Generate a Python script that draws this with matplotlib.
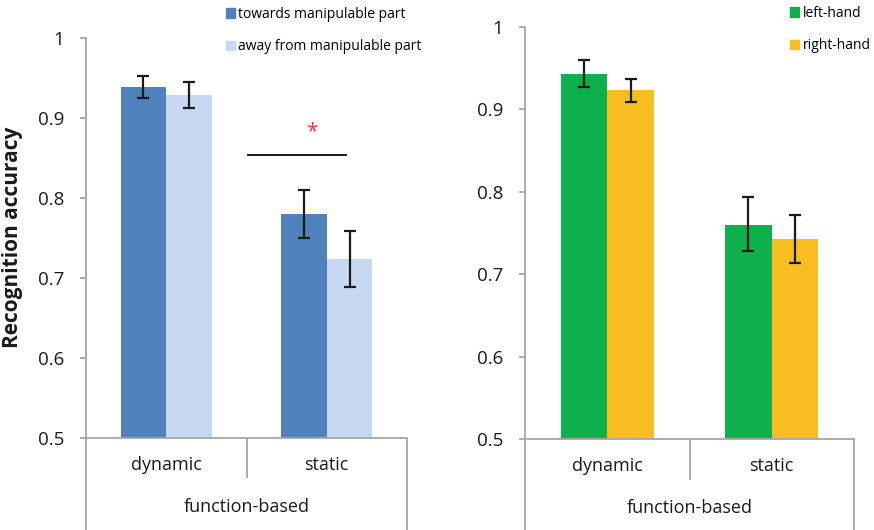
import matplotlib
matplotlib.use("Agg")
import matplotlib.pyplot as plt
import matplotlib.transforms as mtransforms
from matplotlib.patches import Patch

plt.rcParams['font.family'] = ['Open Sans', 'DejaVu Sans']

categories = ["dynamic", "static"]
group_label = "function-based"

# Left panel
left_series = ["towards manipulable part", "away from manipulable part"]
left_values = [[0.938, 0.780], [0.928, 0.723]]
left_err_lo = [[0.924, 0.750], [0.912, 0.689]]
left_err_hi = [[0.952, 0.810], [0.945, 0.758]]
left_colors = ["#4F81BD", "#C6D9F0"]

# Right panel
right_series = ["left-hand", "right-hand"]
right_values = [[0.943, 0.760], [0.923, 0.743]]
right_err_lo = [[0.927, 0.728], [0.909, 0.714]]
right_err_hi = [[0.960, 0.794], [0.937, 0.772]]
right_colors = ["#0DB04B", "#F8BE1F"]

yticks = [0.5, 0.6, 0.7, 0.8, 0.9, 1.0]
yticklabels = ["0.5", "0.6", "0.7", "0.8", "0.9", "1"]

W, H = 874, 530
fig = plt.figure(figsize=(W / 100, H / 100), dpi=100)

GRAY = "#A6A6A6"
bw = 0.284


def px_rect(x0, y0, x1, y1):
    return [x0 / W, (H - y1) / H, (x1 - x0) / W, (y1 - y0) / H]


def panel(rect, series, values, lo, hi, colors, mid_bottom_px, cat_y_px, grp_y_px):
    ax = fig.add_axes(rect)
    ax.set_xlim(0, 2)
    ax.set_ylim(0.5, 1.0)
    handles = []
    for i, (name, vals, l, h, c) in enumerate(zip(series, values, lo, hi, colors)):
        xs = [j + 0.5 + (i - 0.5) * bw for j in range(len(categories))]
        b = ax.bar(xs, [v - 0.5 for v in vals], bottom=0.5, width=bw, color=c,
                   edgecolor='none', zorder=2, label=name)
        yerr = [[v - a for v, a in zip(vals, l)], [b_ - v for v, b_ in zip(vals, h)]]
        ax.errorbar(xs, vals, yerr=yerr, fmt='none', ecolor='#1a1a1a',
                    elinewidth=1.6, capsize=4.5, capthick=1.6, zorder=3)
        handles.append(b)
    for s in ['top', 'right']:
        ax.spines[s].set_visible(False)
    for s in ['left', 'bottom']:
        ax.spines[s].set_color(GRAY)
        ax.spines[s].set_linewidth(1.3)
    ax.set_xticks([])
    ax.set_yticks(yticks)
    ax.set_yticklabels(yticklabels)
    ax.tick_params(axis='y', direction='out', length=4.5, width=1.3, color=GRAY,
                   labelsize=13.5, pad=11, labelcolor='#1a1a1a')
    # category axis lines below
    tr = mtransforms.blended_transform_factory(ax.transData, fig.transFigure)
    ybase = rect[1]
    for x, yb in [(0, 0.0), (1, (H - mid_bottom_px) / H), (2, 0.0)]:
        ax.plot([x, x], [ybase, yb], transform=tr, color=GRAY, lw=1.3,
                clip_on=False, solid_capstyle='butt')
    for j, cat in enumerate(categories):
        ax.text(j + 0.5, (H - cat_y_px) / H, cat, transform=tr, ha='center',
                va='center', fontsize=13, color='#1a1a1a')
    ax.text(1.0, (H - grp_y_px) / H, group_label, transform=tr, ha='center',
            va='center', fontsize=13, color='#1a1a1a')
    return ax, handles


axL, hL = panel(px_rect(86, 37.7, 407, 437.7), left_series, left_values, left_err_lo,
                left_err_hi, left_colors, 478, 465, 507)
axR, hR = panel(px_rect(525, 26.7, 854, 439), right_series, right_values, right_err_lo,
                right_err_hi, right_colors, 480, 466, 508)

axL.set_ylabel("Recognition accuracy", fontsize=15, fontweight='bold',
               color='#1a1a1a')
axL.yaxis.set_label_coords(-0.195, 0.5)

# significance marker
axL.plot([1.01, 1.62], [0.853, 0.853], color='#1a1a1a', lw=1.4, zorder=3)
axL.text(1.405, 0.882, "*", color='#E53935', fontsize=15, ha='center', va='center')

leg_kw = dict(frameon=False, fontsize=10, handlelength=0.65, handleheight=0.65,
              handletextpad=0.25, labelspacing=1.25, borderpad=0, borderaxespad=0)
fig.legend(handles=[Patch(color=c) for c in left_colors], labels=left_series,
           loc='upper left', bbox_to_anchor=(226 / W, 1 - 7 / H), **leg_kw)
fig.legend(handles=[Patch(color=c) for c in right_colors], labels=right_series,
           loc='upper left', bbox_to_anchor=(790 / W, 1 - 6 / H), **leg_kw)

fig.savefig("out.png", dpi=100)
